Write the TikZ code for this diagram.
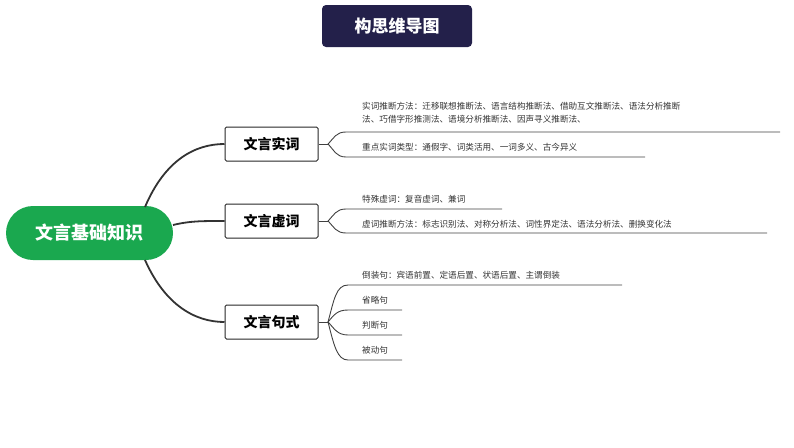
\documentclass[tikz,border=0pt]{standalone}
\usepackage{fontspec}
\setmainfont{Noto Sans CJK SC}
\begin{document}
\begin{tikzpicture}[x=1pt,y=-1pt,
  box/.style={draw=black!85,line width=1pt,rounded corners=1.5pt,minimum width=93pt,minimum height=34pt,font=\bfseries\fontsize{14}{16}\selectfont},
  leaf/.style={anchor=west,inner sep=0pt,font=\fontsize{8.6}{13}\selectfont,text=black!80},
  br/.style={line width=1.8pt,black!80},
  lf/.style={line width=0.9pt,black!75}]
\useasboundingbox (0,0) rectangle (794,447);
\node[fill={rgb,255:red,35;green,32;blue,74},rounded corners=4pt,minimum width=150pt,minimum height=42pt,text=white,font=\bfseries\fontsize{17}{20}\selectfont] (title) at (397,26) {构思维导图};
\node[fill={rgb,255:red,26;green,168;blue,79},rounded corners=27pt,minimum width=167pt,minimum height=54pt,text=white,font=\bfseries\fontsize{18}{20}\selectfont] (root) at (89.5,233) {文言基础知识};
\node[box] (a) at (271.5,144) {文言实词};
\node[box] (b) at (271.5,221) {文言虚词};
\node[box] (c) at (271.5,322) {文言句式};
\draw[br] (145,207) .. controls (165,160) and (195,144) .. (a.west);
\draw[br] (173,225) .. controls (190,221) and (200,221) .. (b.west);
\draw[br] (145,260) .. controls (165,305) and (195,322) .. (c.west);
% leaf texts
\node[leaf,align=left] (a1) at (362,113) {实词推断方法：迁移联想推断法、语言结构推断法、借助互文推断法、语法分析推断\\法、巧借字形推测法、语境分析推断法、因声寻义推断法、};
\node[leaf] (a2) at (362,147) {重点实词类型：通假字、词类活用、一词多义、古今异义};
\node[leaf] (b1) at (362,199) {特殊虚词：复音虚词、兼词};
\node[leaf] (b2) at (362,224) {虚词推断方法：标志识别法、对称分析法、词性界定法、语法分析法、删换变化法};
\node[leaf] (c1) at (362,275) {倒装句：宾语前置、定语后置、状语后置、主谓倒装};
\node[leaf] (c2) at (362,300) {省略句};
\node[leaf] (c3) at (362,325) {判断句};
\node[leaf] (c4) at (362,350) {被动句};
% leaf connectors
\coordinate (sa) at (328,144);
\coordinate (sb) at (328,221);
\coordinate (sc) at (328,322);
\draw[lf] (a.east) -- (sa);
\draw[lf] (b.east) -- (sb);
\draw[lf] (c.east) -- (sc);
\draw[lf] (sa) .. controls (334,138) and (336,132) .. (346,132) -- (780,132);
\draw[lf] (sa) .. controls (334,150) and (336,157) .. (346,157) -- (645,157);
\draw[lf] (sb) .. controls (334,215) and (336,209) .. (346,209) -- (502,209);
\draw[lf] (sb) .. controls (334,227) and (336,233) .. (346,233) -- (767,233);
\draw[lf] (sc) .. controls (334,300) and (336,285) .. (348,285) -- (622,285);
\draw[lf] (sc) .. controls (334,315) and (337,310) .. (348,310) -- (402,310);
\draw[lf] (sc) .. controls (334,328) and (337,335) .. (348,335) -- (402,335);
\draw[lf] (sc) .. controls (334,345) and (337,360) .. (348,360) -- (402,360);
\end{tikzpicture}
\end{document}
